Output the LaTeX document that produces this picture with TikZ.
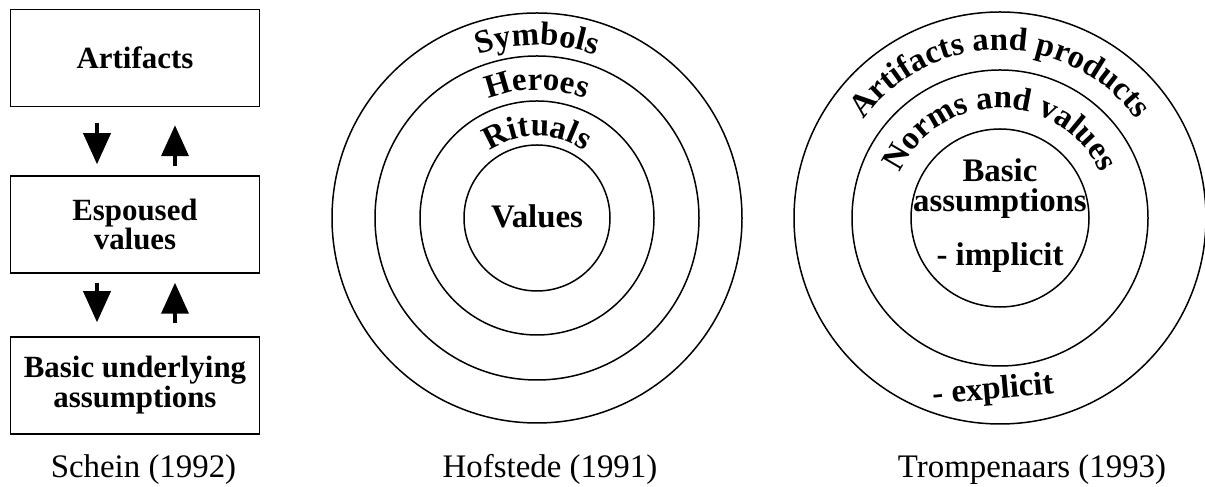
\documentclass[tikz,border=0pt]{standalone}
\usepackage{fontspec}
\setmainfont{Liberation Serif}
\usetikzlibrary{arrows.meta,decorations.text}
\newcommand\labfont{\fontsize{33}{30}\selectfont\bfseries}
\newcommand\boxfont{\fontsize{31}{30}\selectfont\bfseries}
\newcommand\capfont{\fontsize{33}{36}\selectfont}
\begin{document}
\begin{tikzpicture}[x=1bp,y=1bp,
  box/.style={draw, line width=1.5bp, minimum width=249bp, minimum height=97bp, inner sep=0pt, font=\boxfont, align=center},
  arr/.style={line width=3.8bp, -{Triangle[length=31bp,width=27bp]}},
  ring/.style={draw, line width=1.5bp},
  lab/.style={font=\labfont, align=center, inner sep=0pt},
  captxt/.style={font=\capfont, anchor=base, inner sep=0pt}]
\useasboundingbox (0,0) rectangle (1205,487);
% Schein
\node[box] (art) at (135,429) {Artifacts};
\node[box] (esp) at (135,262.5) {Espoused\\values};
\node[box] (bas) at (135,101.5) {Basic underlying\\assumptions};
\draw[arr, shorten <=16bp, shorten >=11bp] ([xshift=-38bp]art.south) -- ([xshift=-38bp]esp.north);
\draw[arr, shorten <=9bp, shorten >=18bp] ([xshift=40bp]esp.north) -- ([xshift=40bp]art.south);
\draw[arr, shorten <=9bp, shorten >=14bp] ([xshift=-38bp]esp.south) -- ([xshift=-38bp]bas.north);
\draw[arr, shorten <=13bp, shorten >=9bp] ([xshift=40bp]bas.north) -- ([xshift=40bp]esp.south);
% Hofstede
\coordinate (H) at (537,269);
\draw[ring] (H) circle[radius=205];
\draw[ring] (H) circle[radius=162];
\draw[ring] (H) circle[radius=117];
\draw[ring] (H) circle[radius=73];
\path[decorate, decoration={text along path, text align=center, text={|\labfont|Symbols}}]
  ([shift={(170:173)}]H) arc[start angle=170, end angle=10, radius=173];
\path[decorate, decoration={text along path, text align=center, text={|\labfont|Heroes}}]
  ([shift={(170:128)}]H) arc[start angle=170, end angle=10, radius=128];
\path[decorate, decoration={text along path, text align=center, text={|\labfont|Rituals}}]
  ([shift={(170:82)}]H) arc[start angle=170, end angle=10, radius=82];
\node[lab] (val) at (537,271) {Values};
% Trompenaars
\coordinate (T) at (1000,269);
\draw[ring] (T) circle[radius=206];
\draw[ring] (T) circle[radius=148];
\draw[ring] (T) circle[radius=89];
\path[decorate, decoration={text along path, text align=center, text={|\labfont|Artifacts and products}}]
  ([shift={(175:168)}]T) arc[start angle=175, end angle=5, radius=168];
\path[decorate, decoration={text along path, text align=center, text={|\labfont|Norms and values}}]
  ([shift={(175:110)}]T) arc[start angle=175, end angle=5, radius=110];
\node[lab] (basic) at (1000,298) {Basic\\assumptions};
\node[lab] (impl) at (1000,229) {- implicit};
\node[lab, rotate=5] (expl) at (993,96) {- explicit};
% captions
\node[captxt] (c1) at (143.5,9) {Schein (1992)};
\node[captxt] (c2) at (550,9) {Hofstede (1991)};
\node[captxt] (c3) at (1032,9) {Trompenaars (1993)};
\end{tikzpicture}
\end{document}
